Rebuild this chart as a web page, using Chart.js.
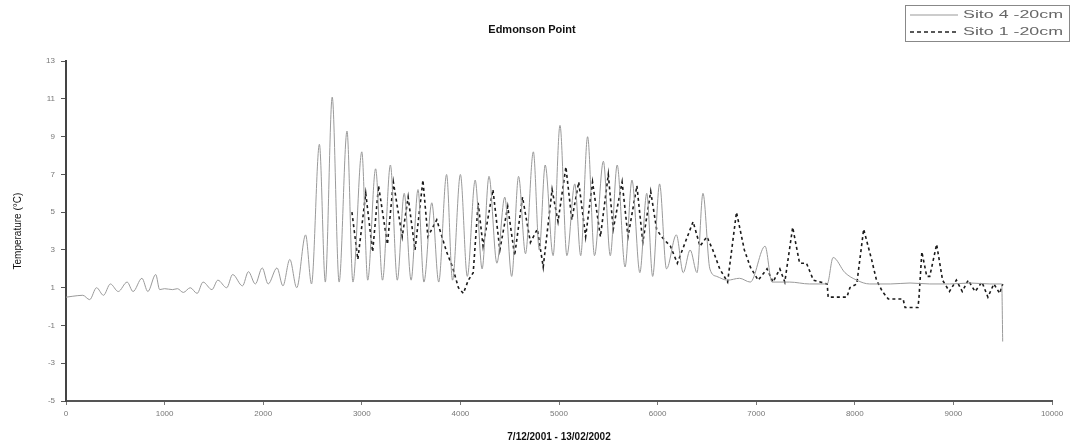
<!DOCTYPE html>
<html>
<head>
<meta charset="utf-8">
<script src="https://cdn.jsdelivr.net/npm/chart.js@4"></script>
<style>
  html, body { margin: 0; padding: 0; background: #fff; }
  #wrap { width: 1075px; height: 443px; }
</style>
</head>
<body>
<div id="wrap"><canvas id="tempChart" width="1075" height="443"></canvas></div>
<script>
// Sito 4 -20cm (solid grey) at peaks and troughs
const sito4X = [0, 70, 170, 240, 310, 380, 450, 530, 620, 680, 770, 830, 910, 950, 1000, 1080, 1130, 1190, 1260, 1330,
  1390, 1480, 1540, 1630, 1690, 1790, 1850, 1920, 1990, 2050, 2140, 2200, 2270, 2340, 2430, 2490, 2570, 2630, 2700, 2770,
  2850, 2910, 3000, 3060, 3140, 3210, 3290, 3360, 3430, 3500, 3570, 3630, 3710, 3780, 3860, 3920, 4000, 4070, 4150, 4220,
  4290, 4370, 4450, 4520, 4590, 4660, 4740, 4800, 4860, 4940, 5010, 5080, 5160, 5220, 5290, 5360, 5450, 5520, 5590, 5670,
  5740, 5820, 5890, 5950, 6020, 6090, 6190, 6260, 6330, 6400, 6460, 6530, 6600, 6710, 6830, 6940, 7090, 7160, 7340, 7540,
  7720, 7780, 7900, 8020, 8150, 8360, 8560, 8760, 8960, 9170, 9370, 9490, 9500];
const sito4Y = [0.5, 0.55, 0.6, 0.37, 1.0, 0.6, 1.2, 0.8, 1.3, 0.8, 1.5, 0.8, 1.7, 0.9, 0.95, 0.9, 0.95, 0.75, 1.0, 0.7,
  1.3, 0.9, 1.4, 1.0, 1.7, 1.1, 1.85, 1.2, 2.05, 1.2, 2.05, 1.1, 2.5, 1.0, 3.8, 1.2, 8.6, 1.3, 11.1, 1.3,
  9.3, 1.3, 8.2, 1.4, 7.3, 1.4, 7.5, 1.4, 6.0, 1.4, 6.2, 1.3, 5.5, 1.3, 7.0, 1.4, 7.0, 1.6, 6.7, 2.0,
  6.9, 2.3, 5.8, 1.6, 6.9, 2.8, 8.2, 3.0, 7.5, 2.7, 9.6, 2.7, 6.5, 2.7, 9.0, 2.7, 7.7, 2.7, 7.5, 2.1,
  6.7, 1.8, 6.0, 1.6, 6.5, 2.0, 3.8, 1.8, 3.0, 1.8, 6.0, 2.0, 1.6, 1.4, 1.5, 1.3, 3.2, 1.3, 1.3, 1.2,
  1.2, 2.6, 1.8, 1.4, 1.2, 1.2, 1.25, 1.2, 1.2, 1.25, 1.2, 1.2, -1.85];

// Sito 1 -20cm (dashed black)
const sito1X = [2900, 2960, 3040, 3110, 3170, 3260, 3320, 3410, 3470, 3540, 3620, 3670, 3760, 3860, 3920, 3980, 4030, 4080, 4130, 4180,
  4230, 4330, 4400, 4480, 4550, 4630, 4710, 4780, 4840, 4930, 4990, 5070, 5130, 5200, 5270, 5340, 5420, 5500, 5550, 5640,
  5700, 5790, 5850, 5930, 5990, 6040, 6130, 6200, 6360, 6430, 6500, 6560, 6630, 6710, 6800, 6880, 6940, 7020, 7110, 7170,
  7240, 7290, 7370, 7440, 7510, 7580, 7720, 7730, 7920, 7950, 8020, 8090, 8170, 8220, 8280, 8340, 8490, 8510, 8640, 8650,
  8680, 8730, 8760, 8830, 8890, 8960, 9030, 9090, 9150, 9220, 9290, 9350, 9410, 9470, 9500];
const sito1Y = [5.0, 2.5, 6.0, 2.9, 6.4, 3.3, 6.6, 3.7, 5.8, 3.0, 6.7, 3.7, 4.6, 2.9, 2.1, 1.0, 0.7, 1.4, 1.8, 5.5,
  3.2, 6.2, 3.0, 5.3, 2.7, 5.8, 3.4, 4.1, 2.1, 6.2, 4.5, 7.4, 4.6, 6.6, 3.7, 6.6, 3.7, 7.0, 4.1, 6.6,
  3.7, 6.4, 3.4, 6.1, 4.1, 3.7, 3.2, 2.3, 4.5, 3.2, 3.7, 3.0, 2.0, 1.3, 5.0, 3.0, 2.1, 1.4, 2.0, 1.3,
  2.0, 1.3, 4.2, 2.3, 2.3, 1.4, 1.2, 0.5, 0.5, 1.0, 1.2, 4.1, 2.5, 1.4, 0.8, 0.4, 0.4, -0.05, -0.05, 0.4,
  2.9, 1.6, 1.6, 3.3, 1.4, 0.8, 1.4, 0.8, 1.4, 0.8, 1.3, 0.5, 1.2, 0.7, 1.2];

const legendLabels = ["Sito 4 -20cm", "Sito 1 -20cm"];

const toPoints = (xs, ys) => xs.map((x, i) => ({ x: x, y: ys[i] }));

// boxed legend in the top right corner, like the original (text is stretched wide there)
function wideText(c, txt, x, y, w) {
  const m = c.measureText(txt).width;
  c.save();
  c.translate(x, y);
  c.scale(w / m, 1);
  c.fillText(txt, 0, 0);
  c.restore();
}

const boxLegend = {
  id: "boxLegend",
  afterDraw(chart) {
    const c = chart.ctx;
    c.save();
    c.strokeStyle = "#888";
    c.lineWidth = 1;
    c.strokeRect(905.5, 5.5, 164, 36);
    c.font = "11px 'Liberation Sans', Arial, sans-serif";
    c.fillStyle = "#666";
    c.textBaseline = "middle";
    c.textAlign = "left";
    // solid
    c.strokeStyle = "#999";
    c.beginPath(); c.moveTo(910, 15); c.lineTo(958, 15); c.stroke();
    wideText(c, legendLabels[0], 963, 15, 100);
    // dashed
    c.strokeStyle = "#222";
    c.lineWidth = 1.5;
    c.setLineDash([4, 3]);
    c.beginPath(); c.moveTo(910, 32); c.lineTo(958, 32); c.stroke();
    c.setLineDash([]);
    wideText(c, legendLabels[1], 963, 32, 100);
    c.restore();
  }
};

const ctx = document.getElementById("tempChart").getContext("2d");

const chart = new Chart(ctx, {
  type: "line",
  data: {
    datasets: [{
      label: legendLabels[0],
      data: toPoints(sito4X, sito4Y),
      borderColor: "#9a9a9a",
      borderWidth: 1,
      pointRadius: 0,
      cubicInterpolationMode: "monotone"
    }, {
      label: legendLabels[1],
      data: toPoints(sito1X, sito1Y),
      borderColor: "#1a1a1a",
      borderWidth: 1.6,
      borderDash: [3, 3],
      pointRadius: 0,
      tension: 0
    }]
  },
  options: {
    responsive: false,
    animation: false,
    layout: { padding: { left: 12, right: 23, top: 0, bottom: 0 } },
    plugins: {
      legend: { display: false },
      tooltip: { enabled: false },
      title: {
        display: true,
        text: "Edmonson Point",
        color: "#111",
        font: { family: "'Liberation Sans', Arial, sans-serif", size: 11, weight: "bold" },
        padding: { top: 23, bottom: 25 }
      }
    },
    scales: {
      x: {
        type: "linear",
        min: 0,
        max: 10000,
        afterFit: s => { s.height = 42; },
        ticks: {
          stepSize: 1000,
          color: "#777",
          font: { family: "'Liberation Sans', Arial, sans-serif", size: 8 },
          padding: 4,
          maxRotation: 0,
          callback: v => String(v)
        },
        grid: { drawOnChartArea: false, drawTicks: true, tickLength: 4, color: "#777" },
        border: { display: true, color: "#555", width: 2 },
        title: {
          display: true,
          text: "7/12/2001 - 13/02/2002",
          color: "#111",
          font: { family: "'Liberation Sans', Arial, sans-serif", size: 10, weight: "bold" },
          padding: { top: 2, bottom: 0 }
        }
      },
      y: {
        min: -5,
        max: 13,
        afterFit: s => { s.width = 54; },
        ticks: {
          stepSize: 2,
          color: "#777",
          font: { family: "'Liberation Sans', Arial, sans-serif", size: 8 },
          padding: 6
        },
        grid: { drawOnChartArea: false, drawTicks: true, tickLength: 5, color: "#555" },
        border: { display: true, color: "#444", width: 2 },
        title: {
          display: true,
          text: "Temperature (°C)",
          color: "#111",
          font: { family: "'Liberation Sans', Arial, sans-serif", size: 10 },
          padding: { top: 0, bottom: 4 }
        }
      }
    }
  },
  plugins: [boxLegend]
});
</script>
</body>
</html>
